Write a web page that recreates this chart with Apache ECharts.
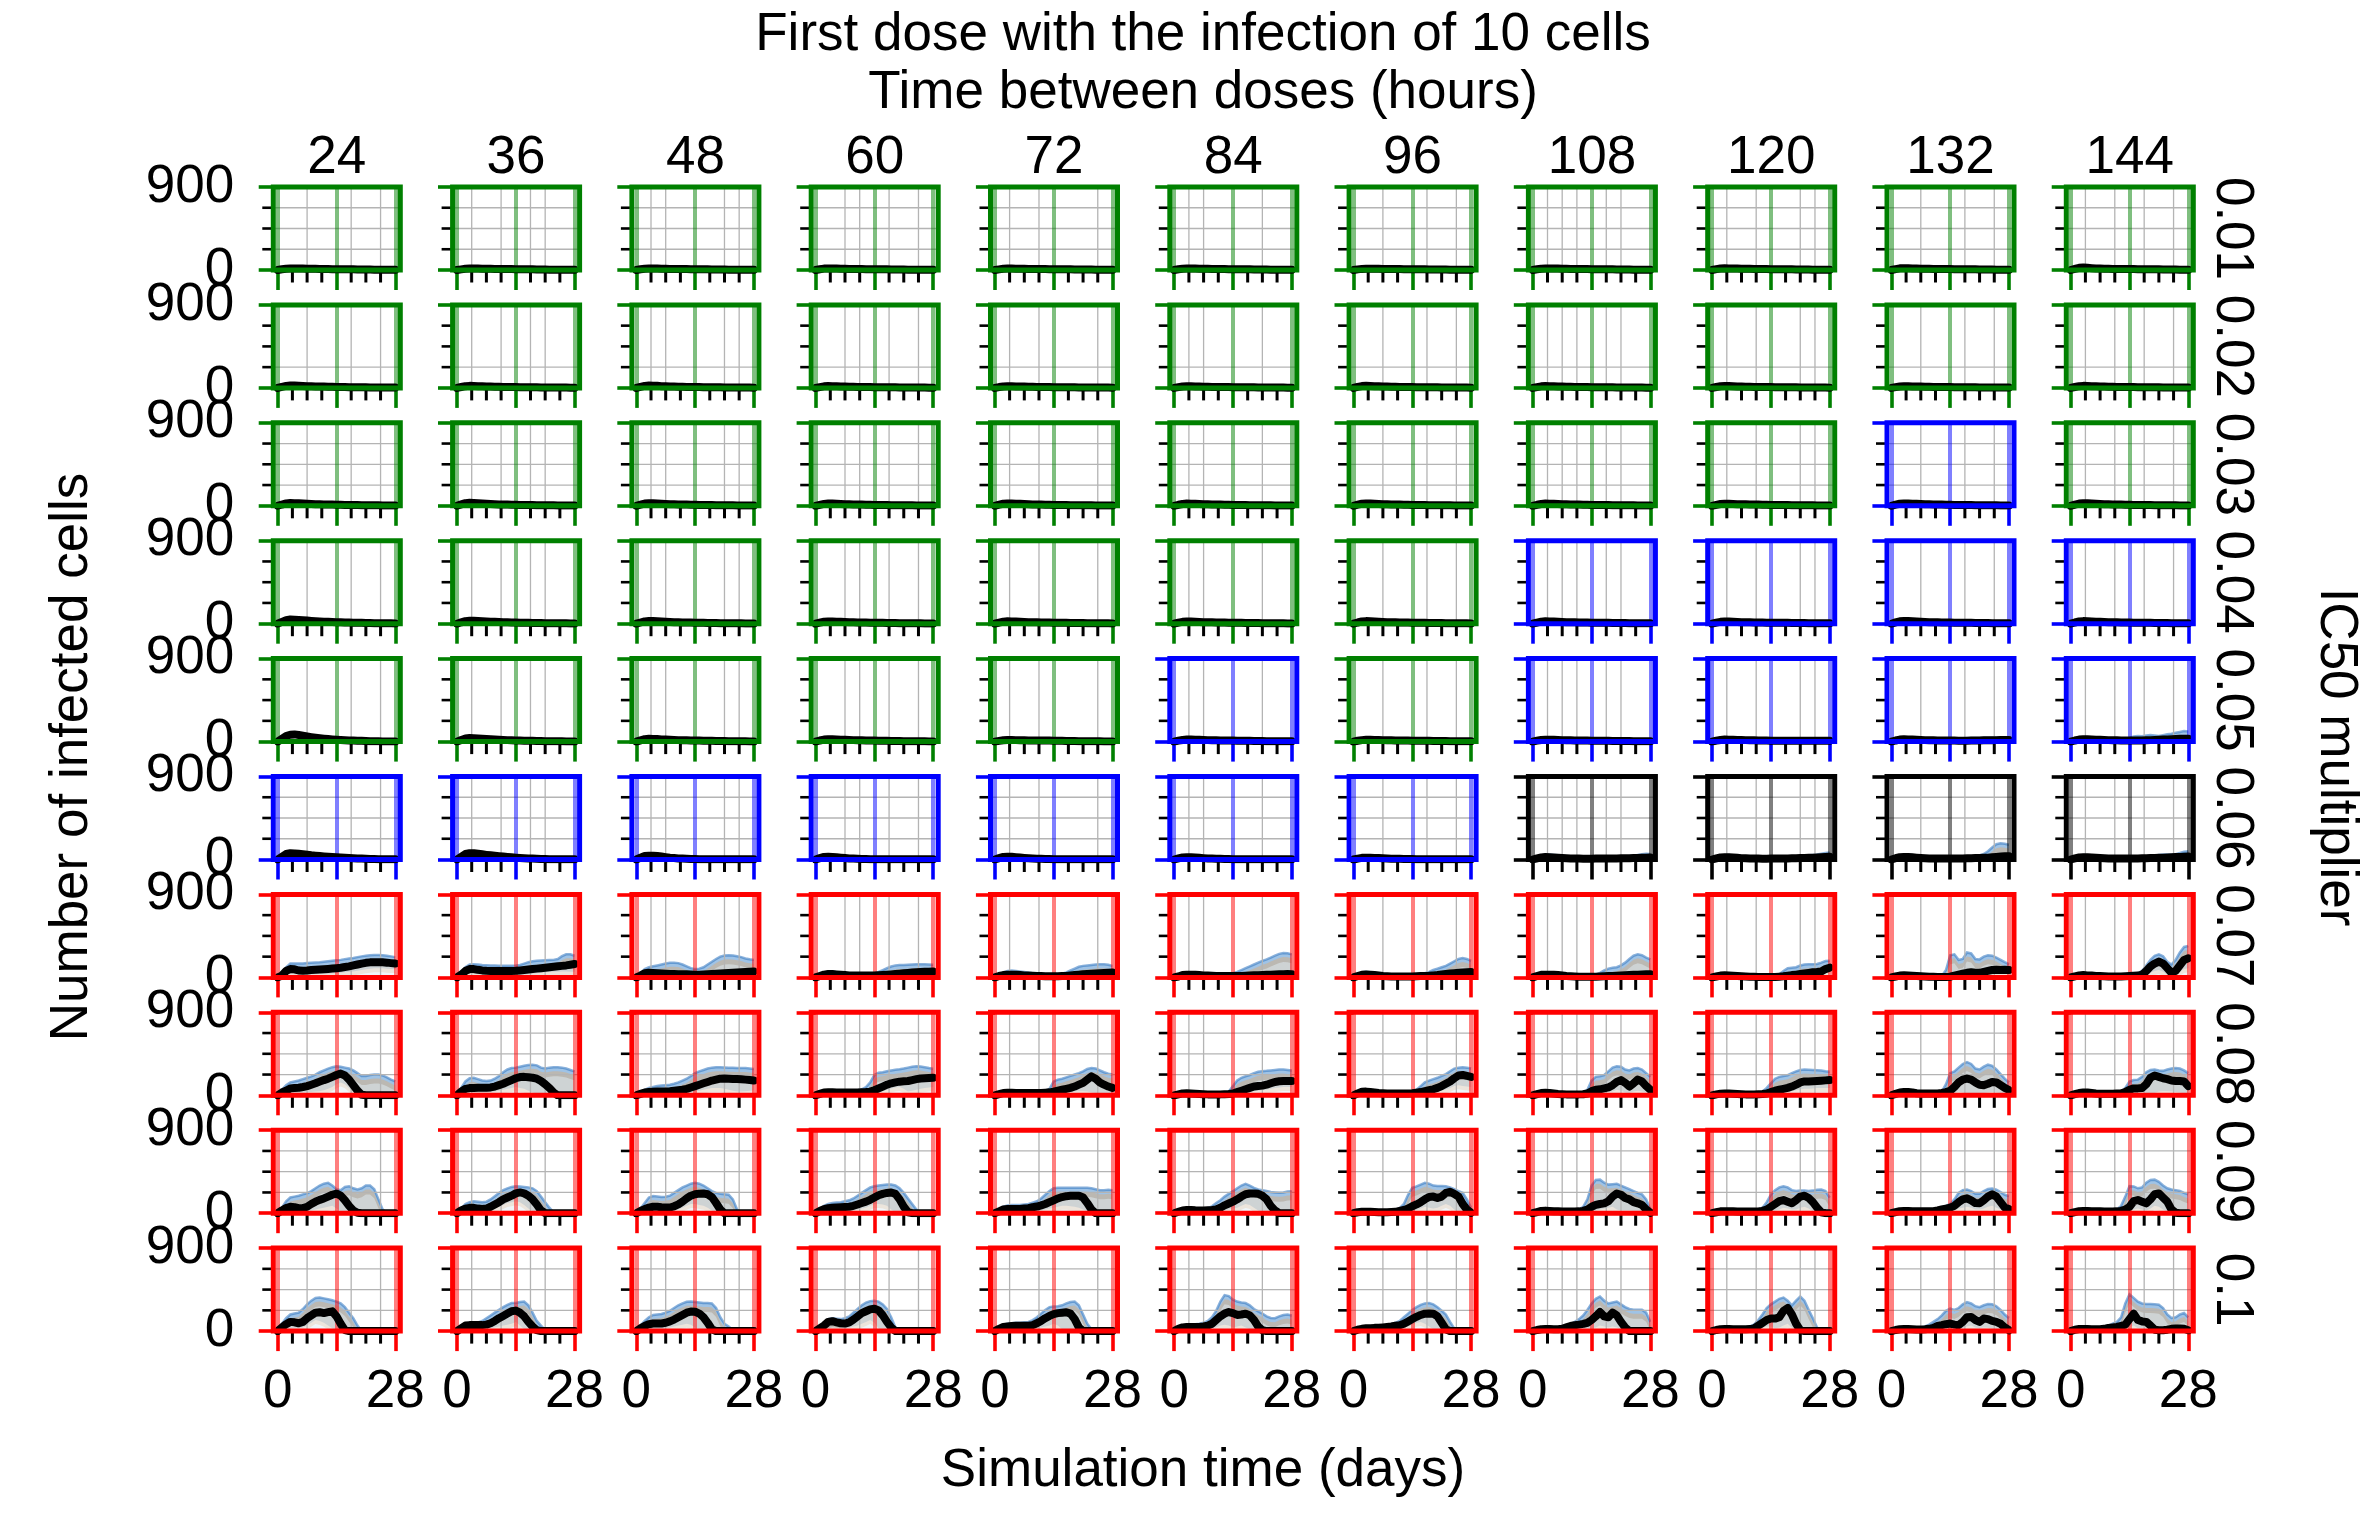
<!DOCTYPE html>
<html><head><meta charset="utf-8">
<script src="https://cdn.jsdelivr.net/npm/echarts@6/dist/echarts.min.js"></script>
<style>html,body{margin:0;padding:0;background:#fff}#chart{width:2377px;height:1513px}</style>
</head><body><div id="chart"></div>
<script>
// ---------------- data ----------------
const days = [0,1,2,3,4,5,6,7,8,9,10,11,12,13,14,15,16,17,18,19,20,21,22,23,24,25,26,27,28];
const doseIntervalHours = ['24','36','48','60','72','84','96','108','120','132','144'];
const ic50Multipliers = ['0.01','0.02','0.03','0.04','0.05','0.06','0.07','0.08','0.09','0.1'];
const xTickLabels = ['0','28'];
const yTickLabels = ['0','900'];
const xMinorTickDays = [3.5,7,10.5,17.5,21,24.5];
const yMinorTickCells = [225,450,675];
// outcome class of each panel (G green, B blue, K black, R red), one string per IC50 row
const outcomeByRow = ['GGGGGGGGGGG','GGGGGGGGGGG','GGGGGGGGGBG','GGGGGGGBBBB','GGGGGBGBBBB',
                      'BBBBBBBKKKK','RRRRRRRRRRR','RRRRRRRRRRR','RRRRRRRRRRR','RRRRRRRRRRR'];

// mean number of infected cells per day, one array per dose interval (columns 24..144 h)
const mean_0_01 = [
[0,8,14,16,16,15,15,14,14,13,12,11,10,9,9,8,8,7,7,6,6,5,5,4,4,3,3,3,3],
[0,7,13,15,15,15,14,14,13,12,12,11,10,10,9,8,8,7,7,6,5,5,4,4,3,3,3,2,2],
[0,8,14,16,16,15,14,13,12,12,11,10,10,9,8,8,7,7,6,6,5,5,4,4,3,3,3,2,2],
[0,8,15,17,16,15,14,13,12,11,10,10,9,9,8,8,7,7,6,6,5,5,4,4,4,3,3,3,3],
[0,7,13,15,15,14,14,13,12,12,11,10,10,9,9,8,8,7,7,6,6,5,5,5,4,4,3,3,3],
[0,8,14,16,16,15,14,13,13,12,11,11,10,9,9,8,8,7,7,6,6,5,5,4,4,4,3,3,3],
[0,7,12,14,14,13,13,12,12,11,10,10,9,9,8,8,7,7,6,6,5,5,5,4,4,3,3,3,3],
[0,8,14,16,16,15,15,14,13,12,12,11,10,10,9,9,8,8,7,7,6,6,5,5,4,4,3,3,3],
[0,9,16,18,17,16,15,14,13,13,12,11,10,10,9,9,8,8,7,7,6,6,5,5,4,4,4,3,3],
[0,10,18,20,18,16,15,14,13,13,12,12,11,10,10,9,9,8,8,7,7,6,6,5,5,4,4,3,3],
[0,12,24,28,24,20,17,15,14,13,12,12,11,11,10,10,9,9,8,8,7,7,6,6,5,5,4,4,4]];
const mean_0_02 = [
[0,12,22,26,25,23,21,19,17,16,15,14,13,12,11,10,9,8,8,7,6,6,5,5,4,4,3,3,3],
[0,10,19,22,21,19,17,15,14,13,12,11,10,9,9,8,7,7,6,6,5,5,4,4,3,3,3,2,2],
[0,12,22,25,24,22,19,17,15,14,13,12,11,10,9,9,8,7,7,6,6,5,5,4,4,3,3,3,2],
[0,9,17,20,19,17,15,14,13,12,11,10,10,9,8,8,7,7,6,6,5,5,4,4,3,3,3,2,2],
[0,9,16,19,18,16,15,14,13,12,11,10,9,9,8,8,7,7,6,6,5,5,4,4,4,3,3,3,2],
[0,8,15,18,17,15,14,13,12,11,10,10,9,9,8,8,7,7,6,6,5,5,4,4,3,3,3,2,2],
[0,11,20,23,21,19,17,15,14,13,12,11,10,10,9,8,8,7,7,6,6,5,5,4,4,3,3,3,2],
[0,9,17,20,19,17,15,14,13,12,11,10,10,9,8,8,7,7,6,6,5,5,4,4,3,3,3,2,2],
[0,10,18,21,20,18,16,14,13,12,11,10,10,9,9,8,8,7,7,6,6,5,5,4,4,3,3,3,2],
[0,8,15,18,17,16,15,14,13,12,11,10,10,9,9,8,8,7,7,6,6,5,5,4,4,3,3,3,3],
[0,10,19,22,21,19,17,15,14,13,12,11,10,10,9,9,8,8,7,7,6,6,5,5,4,4,3,3,3]];
const mean_0_03 = [
[0,14,26,30,29,27,24,22,20,18,16,15,14,13,12,11,10,9,8,8,7,6,6,5,5,4,4,3,3],
[0,15,28,32,30,27,24,21,19,17,15,14,13,12,11,10,9,8,8,7,6,6,5,5,4,4,3,3,3],
[0,12,24,28,27,25,22,20,18,16,15,14,13,12,11,10,9,8,8,7,6,6,5,5,4,4,3,3,3],
[0,11,21,25,24,22,20,18,16,15,14,13,12,11,10,9,9,8,7,7,6,6,5,5,4,4,3,3,3],
[0,12,22,26,25,23,21,19,17,15,14,13,12,11,10,9,9,8,7,7,6,6,5,5,4,4,3,3,3],
[0,11,20,24,23,21,19,17,16,15,14,13,12,11,10,9,9,8,7,7,6,6,5,5,4,4,3,3,3],
[0,12,22,26,25,22,20,18,16,15,14,13,12,11,10,9,8,8,7,7,6,6,5,5,4,4,3,3,3],
[0,11,20,24,23,21,19,17,16,15,14,13,12,11,10,10,9,8,8,7,7,6,6,5,5,4,4,3,3],
[0,10,19,23,22,20,18,17,16,15,14,13,12,11,10,10,9,8,8,7,7,6,6,5,5,4,4,3,3],
[0,12,22,26,25,23,21,19,17,16,15,14,13,12,11,10,9,9,8,8,7,7,6,6,5,5,4,4,4],
[0,13,24,28,27,24,21,19,17,16,15,14,13,12,11,10,9,9,8,8,7,7,6,6,5,5,4,4,4]];
const mean_0_04 = [
[0,20,38,45,44,41,38,34,30,27,24,22,20,18,16,15,13,12,11,10,9,8,7,6,6,5,4,4,3],
[0,15,28,33,32,30,27,24,22,20,18,16,15,13,12,11,10,9,8,8,7,6,6,5,5,4,4,3,3],
[0,13,25,29,28,26,23,21,19,17,15,14,13,12,11,10,9,8,8,7,6,6,5,5,4,4,3,3,3],
[0,11,21,25,24,22,20,18,16,15,14,13,12,11,10,9,9,8,7,7,6,6,5,5,4,4,3,3,3],
[0,12,22,26,25,23,21,19,17,16,15,14,13,12,11,10,9,9,8,8,7,7,6,6,5,5,4,4,3],
[0,11,20,24,23,21,19,17,16,15,14,13,12,11,10,10,9,8,8,7,7,6,6,5,5,4,4,3,3],
[0,13,24,28,27,24,21,19,17,16,15,14,13,12,11,10,9,9,8,8,7,7,6,6,5,5,4,4,3],
[0,12,22,26,25,23,21,19,17,16,15,14,13,12,11,10,10,9,9,8,8,7,7,6,6,5,5,4,4],
[0,11,20,24,23,21,19,17,16,15,14,13,12,11,11,10,10,9,9,8,8,7,7,6,6,5,5,4,4],
[0,14,26,30,29,26,23,21,19,17,16,15,14,13,12,11,10,10,9,9,8,8,7,7,6,6,5,5,4],
[0,13,24,28,27,24,22,20,18,17,16,15,14,13,12,11,10,10,9,9,8,8,7,7,6,6,5,5,5]];
const mean_0_05 = [
[0,30,60,75,78,72,64,56,49,43,37,32,28,24,21,18,15,13,11,9,8,6,5,4,3,2,2,1,1],
[0,18,33,38,37,34,31,28,25,22,20,18,16,14,12,11,10,9,8,7,6,5,5,4,3,3,2,2,2],
[0,14,26,30,29,27,24,22,20,18,16,15,14,13,12,11,10,9,8,7,6,6,5,4,4,3,3,2,2],
[0,12,22,26,25,23,21,19,17,16,15,14,13,12,11,10,9,8,7,7,6,5,5,4,4,3,3,2,2],
[0,8,14,17,17,16,15,14,13,13,12,12,11,11,10,9,8,7,6,6,5,5,4,4,3,3,2,2,2],
[0,10,18,22,22,20,19,17,16,15,14,13,12,12,11,10,9,8,8,7,6,6,5,5,4,4,3,3,3],
[0,9,16,19,19,18,17,16,15,14,13,12,12,11,10,10,9,8,8,7,7,6,6,5,5,4,4,3,3],
[0,10,18,21,21,19,18,16,15,14,13,12,11,11,10,9,9,8,8,7,7,6,6,6,5,5,5,5,5],
[0,10,18,22,21,20,18,17,16,15,14,13,12,11,10,10,9,9,8,8,8,8,8,8,9,9,10,10,10],
[0,12,22,25,24,22,20,18,16,15,14,13,12,12,11,11,10,10,10,11,12,13,14,15,15,16,17,18,18],
[0,12,22,26,25,23,21,19,17,16,15,14,13,12,12,11,11,12,14,16,18,20,22,24,26,28,30,32,32]];
const mean_0_06 = [
[0,30,60,68,66,62,58,52,46,42,38,34,30,27,24,21,18,16,14,12,10,8,6,5,4,3,2,2,2],
[0,30,60,68,68,62,56,50,45,40,36,32,28,24,20,17,14,12,10,8,6,5,4,3,2,2,2,2,2],
[0,20,38,42,42,38,32,26,20,16,12,10,8,6,5,4,3,3,2,2,2,2,2,2,2,2,2,2,2],
[0,15,28,30,28,24,20,16,12,10,8,6,5,4,3,3,2,2,2,2,2,2,2,2,2,2,2,2,2],
[0,15,28,31,29,25,21,17,13,10,8,7,6,5,4,3,3,2,2,2,2,2,2,2,2,2,2,2,2],
[0,12,22,25,24,21,18,15,12,10,8,7,6,5,4,4,3,3,3,2,2,2,2,2,2,2,2,2,2],
[0,10,18,20,19,17,15,13,11,9,8,7,6,5,5,4,4,3,3,3,2,2,2,2,2,2,2,2,2],
[0,12,22,26,25,22,19,16,14,12,11,10,9,9,9,10,10,11,12,12,12,13,13,14,15,16,18,20,22],
[0,12,22,25,24,21,18,15,13,11,10,10,9,9,10,10,11,12,12,13,14,15,16,18,20,22,25,28,30],
[0,14,25,28,27,24,20,17,14,12,11,10,10,10,10,11,11,12,13,14,15,16,18,20,24,28,32,35,36],
[0,12,22,25,24,21,18,16,14,12,11,10,10,10,10,11,12,13,14,15,16,18,20,22,24,26,28,30,32]];
const mean_0_07 = [
[0,20,70,90,88,75,72,75,80,82,85,88,92,96,100,105,112,120,130,140,150,158,163,165,165,163,160,155,150],
[0,30,70,90,90,82,76,72,70,70,70,70,70,70,72,76,80,85,90,95,100,105,110,115,120,125,130,137,145],
[0,20,45,50,48,45,42,40,38,36,35,34,33,32,30,30,32,35,38,40,42,45,48,50,52,55,58,62,65],
[0,15,30,36,36,32,28,25,22,20,20,20,20,20,20,22,25,28,32,36,40,44,48,52,55,58,60,62,64],
[0,15,25,30,30,28,25,22,20,18,15,14,12,12,12,12,14,16,20,25,30,35,38,40,42,45,48,50,52],
[0,10,25,30,30,28,25,22,20,18,16,15,14,14,14,15,16,18,20,22,24,26,28,30,32,33,35,36,35],
[0,15,28,32,30,25,20,15,12,10,10,10,10,10,10,12,14,16,18,22,26,32,38,42,46,50,54,57,58],
[0,15,28,30,30,28,25,20,15,12,10,8,8,8,8,8,10,12,14,16,18,20,22,25,28,30,32,34,35],
[0,10,20,22,20,18,15,12,10,8,6,5,5,5,5,5,8,12,18,25,30,36,42,48,55,58,65,90,105],
[0,10,20,22,20,18,15,12,10,8,6,5,5,5,8,20,30,40,50,55,50,50,60,70,80,82,80,82,80],
[0,12,22,25,22,20,16,14,12,10,10,10,10,12,15,18,20,30,70,118,150,171,150,100,50,70,130,190,207]];
const mean_0_08 = [
[0,30,50,75,80,82,90,100,115,130,148,165,180,200,220,235,215,170,110,50,5,0,0,0,0,0,0,0,0],
[0,40,70,78,80,82,82,82,85,95,110,125,145,165,185,198,200,195,190,180,155,120,80,30,0,0,0,0,0],
[0,15,30,35,38,40,40,42,45,50,55,60,70,85,100,115,130,145,160,170,180,182,180,178,176,174,170,165,160],
[0,15,30,32,32,30,30,30,30,30,30,32,35,40,55,75,95,115,130,140,148,152,155,165,175,182,185,188,190],
[0,12,25,28,28,25,25,25,25,25,25,25,28,32,40,50,60,70,80,95,115,135,170,205,180,140,115,95,80],
[0,10,20,22,20,18,15,12,10,10,10,10,12,15,20,35,50,65,80,95,100,105,115,130,145,152,155,155,155],
[0,20,38,40,35,30,25,22,20,20,20,20,20,20,22,28,35,45,55,65,80,100,125,150,185,215,220,210,200],
[0,12,25,28,25,20,15,12,10,10,10,10,12,20,45,60,65,75,85,110,145,165,135,95,130,170,150,100,60],
[0,10,18,20,20,18,15,12,10,10,10,12,14,20,35,50,60,70,80,95,115,140,150,150,152,155,158,162,165],
[0,15,30,35,35,30,22,20,20,20,20,20,25,35,50,90,140,170,182,170,140,115,110,125,145,140,110,80,57],
[0,12,25,30,30,25,20,18,18,18,18,20,22,35,60,75,75,80,120,190,215,200,185,175,160,155,155,150,100]];
const mean_0_09 = [
[0,30,55,70,65,55,55,70,100,125,145,160,180,200,212,190,140,80,30,5,0,0,0,0,0,0,0,0,0],
[0,30,50,58,58,50,45,50,70,95,120,150,170,190,215,225,215,190,150,95,30,0,0,0,0,0,0,0,0],
[0,25,45,60,70,70,65,62,62,75,95,125,160,190,205,212,214,205,175,110,40,0,0,0,0,0,0,0,0],
[0,25,45,55,60,62,65,68,70,80,95,110,125,145,170,195,210,220,225,210,150,70,10,0,0,0,0,0,0],
[0,20,40,45,46,46,46,50,55,65,72,85,100,120,140,160,175,185,188,189,190,170,110,40,0,0,0,0,0],
[0,15,30,36,36,32,30,30,32,35,40,60,85,105,125,150,180,205,214,214,210,190,150,80,30,0,0,0,0],
[0,10,15,15,15,12,10,10,10,12,15,25,35,50,75,95,120,150,175,180,165,180,220,232,210,180,100,40,5],
[0,12,25,28,25,22,20,18,18,18,18,20,25,40,70,90,100,107,130,180,214,200,165,150,120,107,90,40,5],
[0,10,20,22,22,20,18,18,18,18,18,18,25,40,70,100,130,143,125,107,140,180,189,165,120,60,10,0,0],
[0,12,22,25,25,22,20,20,20,20,22,30,40,50,60,80,120,150,161,140,110,107,140,180,204,180,120,60,45],
[0,12,22,25,25,22,20,20,18,18,18,20,25,40,70,130,143,125,107,150,205,214,170,125,40,5,0,0,0]];
const mean_0_1 = [
[0,40,75,100,95,85,100,140,170,200,205,195,205,214,160,80,10,0,0,0,0,0,0,0,0,0,0,0,0],
[0,30,60,65,65,65,65,70,85,110,140,165,190,215,222,200,160,100,50,10,0,0,0,0,0,0,0,0,0],
[0,30,55,75,82,82,82,90,105,125,150,175,200,212,210,190,150,90,20,0,0,0,0,0,0,0,0,0,0],
[0,30,60,100,107,95,85,82,95,125,160,195,215,235,243,225,170,100,40,0,0,0,0,0,0,0,0,0,0],
[0,25,45,50,55,57,57,57,58,65,85,110,140,165,185,195,200,205,190,130,40,0,0,0,0,0,0,0,0],
[0,25,40,45,45,45,45,50,60,80,120,160,190,207,195,175,180,189,170,120,50,10,0,0,0,0,0,0,0],
[0,15,25,30,32,35,36,40,45,50,58,64,80,105,130,155,175,189,192,189,160,90,20,0,0,0,0,0,0],
[0,12,20,22,22,20,20,25,40,55,64,70,78,90,120,160,207,160,150,200,170,100,40,0,0,0,0,0,0],
[0,12,20,22,22,20,20,20,20,22,30,60,90,120,136,136,150,220,250,180,80,10,0,0,0,0,0,0,0],
[0,12,20,22,22,20,18,18,20,25,35,55,64,75,82,70,64,100,150,154,120,100,136,130,110,100,80,40,10],
[0,15,22,22,22,20,20,20,25,35,40,45,55,70,130,189,120,105,100,60,15,10,10,15,25,28,29,25,10]];

// spread of the replicate runs (upper / lower envelope); null where no visible spread
const upper_0_05 = [null,null,null,null,null,null,null,null,
[0,18,30,34,33,30,27,25,23,21,20,19,18,17,16,16,16,17,18,20,22,24,26,28,30,30,30,30,28],
[0,20,34,38,37,34,31,28,25,23,21,20,19,20,22,26,32,36,38,38,40,40,42,42,44,45,46,46,45],
[0,20,35,40,38,35,31,28,25,23,21,20,20,25,40,55,60,58,65,71,65,60,70,80,85,95,105,114,110]];
const lower_0_05 = [null,null,null,null,null,null,null,null,
[0,3,8,10,10,10,9,8,7,6,5,5,5,4,4,4,3,3,3,3,3,3,3,3,3,3,3,3,3],
[0,4,10,12,12,11,10,9,8,7,6,6,5,5,5,5,5,5,5,5,5,5,5,5,5,5,5,5,5],
[0,4,10,12,12,11,10,9,8,7,6,6,5,5,5,6,6,6,7,8,8,8,9,10,10,11,12,12,12]];
const upper_0_06 = [null,null,null,null,null,null,null,
[0,25,45,55,55,50,45,40,35,30,25,22,20,20,20,22,24,26,28,30,32,34,36,38,42,50,58,62,60],
[0,22,40,50,48,44,40,35,30,26,23,21,20,20,20,22,24,26,28,30,32,35,40,45,50,55,62,70,75],
[0,25,45,55,52,48,42,36,30,26,23,21,20,20,20,22,24,26,28,30,35,45,60,90,130,165,175,170,160],
[0,22,40,48,46,42,38,34,30,27,25,23,22,22,22,23,25,27,30,34,40,50,55,55,52,58,70,85,90]];
const lower_0_06 = [null,null,null,null,null,null,null,
[0,3,8,10,10,10,9,8,7,6,5,5,5,5,5,5,5,5,5,5,5,5,5,5,5,5,5,5,5],
[0,3,8,10,10,9,8,7,6,5,5,5,5,5,5,5,5,5,5,5,5,5,5,5,5,5,6,6,6],
[0,3,8,10,10,9,8,7,6,5,5,5,5,5,5,5,5,5,5,5,6,7,8,10,12,14,15,15,15],
[0,3,8,10,10,9,8,7,6,5,5,5,5,5,5,5,5,5,6,6,7,8,8,9,10,10,10,11,12]];
const upper_0_07 = [
[0,40,110,150,150,150,150,155,160,162,165,170,175,180,185,190,198,205,210,220,228,235,240,242,242,240,235,228,220],
[0,50,110,140,142,140,135,132,130,128,126,125,125,125,128,135,150,165,175,180,182,185,188,190,200,230,250,250,235],
[0,40,90,110,120,130,140,150,158,160,155,140,120,100,90,95,110,140,170,200,225,238,240,238,230,220,205,196,190],
[0,25,50,60,60,55,50,45,40,35,32,30,30,35,45,60,80,100,118,130,135,135,138,140,142,143,142,140,136],
[0,30,55,70,75,70,65,58,50,45,40,35,30,28,28,30,40,55,75,95,115,125,130,135,140,143,143,138,125],
[0,20,45,55,55,50,45,40,35,32,30,30,30,35,45,60,80,100,120,140,160,180,195,215,235,255,265,262,250],
[0,30,55,60,55,45,38,32,28,25,22,20,20,20,22,28,35,45,60,80,95,110,125,150,175,200,210,200,180],
[0,25,45,50,50,45,40,35,30,25,22,20,18,18,20,30,50,75,95,105,110,130,160,200,235,250,240,215,195],
[0,20,35,38,35,30,25,20,18,15,12,10,10,10,12,18,35,70,100,105,110,130,140,143,143,145,160,178,180],
[0,20,35,38,35,30,25,20,18,15,12,10,15,80,240,250,190,200,270,260,200,195,225,240,235,215,190,165,145],
[0,22,35,38,35,30,25,22,20,18,18,18,20,25,30,35,45,70,130,190,235,250,230,170,140,190,270,330,340]];
const lower_0_07 = [
[0,0,30,40,35,30,30,30,32,34,36,38,40,42,45,50,55,60,65,72,80,88,95,100,100,98,95,92,90],
[0,0,20,40,40,35,30,28,25,25,25,25,25,25,25,28,30,35,40,45,50,55,58,60,62,64,65,62,60],
[0,0,10,15,15,15,15,15,15,15,15,15,15,15,15,15,15,15,18,20,22,25,25,25,25,25,25,25,25],
[0,0,10,15,15,12,10,8,8,8,8,8,8,8,8,8,10,12,15,18,20,22,24,26,28,30,30,30,30],
[0,0,5,10,10,10,8,8,5,5,5,5,5,5,5,5,5,5,8,10,12,15,15,18,18,20,20,20,20],
[0,0,5,8,8,8,8,6,5,5,5,5,5,5,5,5,8,10,12,15,18,20,22,25,28,30,32,32,30],
[0,0,5,8,8,6,5,4,3,3,3,3,3,3,3,4,5,6,8,10,12,15,18,20,22,25,25,25,25],
[0,0,5,8,8,6,5,4,3,3,3,3,3,3,3,3,5,6,8,10,12,15,18,20,22,22,22,20,20],
[0,0,5,5,5,5,4,3,2,2,2,2,2,2,2,2,4,6,10,15,18,22,26,30,35,40,45,60,75],
[0,0,5,5,5,5,4,3,2,2,2,2,2,5,20,30,25,25,30,30,28,28,35,45,55,55,50,50,50],
[0,2,8,10,10,8,6,5,4,4,4,4,4,5,6,8,10,12,25,50,70,80,60,30,15,25,60,90,100]];
const upper_0_08 = [
[0,60,110,140,150,160,175,190,205,225,250,270,290,305,314,310,300,290,270,240,210,210,220,225,225,215,195,170,150],
[0,80,150,185,190,175,160,155,160,180,210,250,280,296,300,310,320,328,332,325,300,290,300,305,304,300,290,275,260],
[0,30,60,80,90,100,105,110,115,125,140,160,180,210,240,260,275,290,300,304,304,302,300,298,296,296,295,290,285],
[0,25,45,50,50,50,48,48,48,50,55,65,90,140,220,245,250,260,270,278,282,290,300,310,314,312,305,295,289],
[0,25,40,45,45,40,38,35,35,35,35,38,45,70,150,170,180,195,210,225,240,260,285,296,290,270,250,235,225],
[0,20,35,38,35,30,28,25,22,20,20,22,25,40,100,160,190,207,220,240,255,262,265,270,275,280,280,275,270],
[0,30,50,55,50,45,40,35,30,30,30,30,30,32,40,60,100,140,160,175,190,210,230,260,290,300,304,300,290],
[0,20,40,45,40,35,30,25,22,20,20,25,35,60,160,200,207,220,260,300,314,310,280,270,290,296,280,240,200],
[0,15,30,35,32,28,25,22,20,20,22,25,40,80,130,180,200,210,218,240,260,275,280,278,275,272,268,260,255],
[0,25,40,48,48,40,35,32,30,30,30,30,40,120,240,260,300,340,361,340,290,280,310,332,320,280,230,180,140],
[0,20,35,40,38,35,30,28,28,28,28,30,40,80,150,165,170,200,250,275,279,270,265,280,290,296,290,270,240]];
const lower_0_08 = [
[0,0,10,20,25,28,30,32,35,40,45,55,70,90,120,140,120,80,30,5,0,0,0,0,0,0,0,0,0],
[0,0,20,30,30,30,30,30,35,40,50,60,70,80,90,80,70,50,30,20,10,5,5,5,5,5,5,5,5],
[0,0,5,10,10,10,10,10,10,12,15,20,25,30,40,50,60,70,80,80,80,70,60,50,40,40,45,50,55],
[0,0,5,8,8,8,8,8,8,8,8,10,12,15,20,30,45,60,75,85,90,70,40,50,60,70,80,85,90],
[0,0,5,5,5,5,5,5,5,5,5,5,8,10,15,20,25,30,35,40,45,45,40,30,25,20,15,12,10],
[0,0,5,5,5,5,4,3,3,3,3,3,4,5,8,15,25,35,40,45,50,55,60,70,80,85,90,90,90],
[0,2,10,12,10,10,8,6,6,6,6,6,6,6,8,10,15,20,25,30,40,50,65,80,100,110,100,95,90],
[0,0,5,8,8,6,5,4,3,3,3,3,4,5,15,20,25,30,35,40,60,50,30,25,40,50,40,30,20],
[0,0,5,5,5,5,4,3,3,3,3,4,5,8,15,20,25,30,35,45,55,65,70,72,75,78,80,80,80],
[0,2,10,12,12,10,8,6,6,6,6,6,8,10,15,25,40,30,20,15,15,20,25,30,35,30,25,20,15],
[0,0,5,8,8,6,5,4,4,4,4,4,5,10,20,30,30,30,25,20,25,40,45,45,40,35,30,20,10]];
const upper_0_09 = [
[0,60,130,170,180,190,204,215,240,270,300,320,329,300,260,250,285,293,270,258,270,300,300,260,150,40,0,0,0],
[0,50,100,120,130,125,120,125,150,185,220,250,270,285,293,290,285,280,270,240,180,120,60,10,0,0,0,0,0],
[0,50,110,170,186,180,175,178,190,220,250,280,300,320,329,320,300,270,240,220,210,206,200,150,40,0,0,0,0],
[0,40,80,100,110,115,120,130,140,160,190,220,250,280,293,300,305,311,311,300,270,220,160,100,40,0,0,0,0],
[0,35,70,85,90,90,90,95,100,115,130,160,200,240,270,275,275,275,275,275,275,275,275,270,260,250,250,255,250],
[0,25,45,55,55,50,48,48,55,75,110,140,180,210,239,270,300,318,300,275,257,250,240,230,225,221,225,235,239],
[0,15,25,28,28,25,22,20,20,25,35,55,100,200,275,290,310,329,320,300,295,295,293,280,260,240,221,150,60],
[0,20,35,40,38,35,30,28,28,28,30,40,70,150,300,360,364,330,310,315,318,300,280,260,240,220,204,150,40],
[0,20,35,38,38,35,32,30,30,30,32,40,60,120,200,250,280,293,280,250,240,246,245,240,245,255,257,240,168],
[0,20,35,40,40,35,32,30,30,30,35,50,65,80,100,150,220,250,257,240,210,210,240,262,268,255,230,200,186],
[0,20,35,40,40,35,30,28,28,28,30,40,80,180,293,290,270,280,330,360,364,340,300,270,257,250,240,220,204]];
const lower_0_09 = [
[0,0,10,20,20,15,15,20,30,40,50,60,70,80,50,20,5,0,0,0,0,0,0,0,0,0,0,0,0],
[0,5,20,30,30,25,20,25,35,50,70,90,110,120,130,120,90,50,20,0,0,0,0,0,0,0,0,0,0],
[0,0,10,20,25,25,20,20,20,30,40,60,80,100,100,90,80,60,30,10,0,0,0,0,0,0,0,0,0],
[0,5,15,20,25,25,25,25,25,30,40,50,60,80,100,100,95,80,40,10,0,0,0,0,0,0,0,0,0],
[0,5,10,15,15,15,15,15,15,20,25,30,40,50,60,70,80,80,75,70,60,40,20,5,0,0,0,0,0],
[0,2,8,10,10,8,8,8,10,12,15,20,30,40,50,60,80,100,90,60,30,10,0,0,0,0,0,0,0],
[0,2,5,5,5,5,4,4,4,5,8,10,15,20,25,35,50,70,60,50,60,80,100,80,40,10,0,0,0],
[0,2,8,10,8,6,5,5,5,5,5,6,8,12,20,30,40,50,60,70,40,30,30,30,25,20,10,0,0],
[0,2,8,10,10,8,6,6,6,6,6,6,8,12,20,30,40,60,50,40,40,60,70,50,20,5,0,0,0],
[0,2,8,10,10,8,6,6,6,6,8,10,15,20,25,30,50,60,70,60,40,40,50,70,80,60,40,20,15],
[0,2,8,10,10,8,6,6,6,6,6,8,10,15,20,40,50,40,30,50,80,70,40,15,0,0,0,0,0]];
const upper_0_1 = [
[0,80,140,180,190,200,240,290,330,360,364,355,345,335,320,300,260,200,140,60,0,0,0,0,0,0,0,0,0],
[0,50,80,90,90,95,110,140,170,200,230,260,285,304,305,315,321,280,200,110,60,10,0,0,0,0,0,0,0],
[0,60,110,150,175,180,185,200,220,250,280,300,318,321,315,310,305,304,300,250,150,80,50,10,0,0,0,0,0],
[0,50,90,130,140,135,130,140,160,200,240,280,310,325,329,320,290,240,150,40,0,0,0,0,0,0,0,0,0],
[0,40,70,80,85,90,90,95,100,120,150,190,230,260,268,270,280,300,315,321,280,180,80,20,0,0,0,0,0],
[0,40,60,70,75,75,80,90,110,150,220,320,390,380,340,320,310,304,280,240,214,190,160,143,140,160,175,179,170],
[0,25,40,45,50,52,55,60,65,75,90,110,150,190,230,260,285,300,304,290,260,220,179,100,30,0,0,0,0],
[0,20,30,35,35,35,35,40,55,75,100,130,170,230,300,350,375,330,300,310,321,290,260,240,232,232,232,200,100],
[0,20,30,35,35,35,35,35,40,50,70,120,180,250,290,320,350,364,330,280,330,375,330,230,140,40,0,0,0],
[0,20,30,35,35,35,35,40,50,70,100,130,170,220,243,230,250,290,314,300,270,260,280,293,290,270,230,180,143],
[0,20,30,35,35,35,35,40,50,60,80,100,150,300,400,360,320,300,295,293,290,286,250,180,143,150,180,196,150]];
const lower_0_1 = [
[0,5,20,30,30,30,40,60,90,120,110,90,60,30,10,0,0,0,0,0,0,0,0,0,0,0,0,0,0],
[0,5,15,20,20,20,20,25,30,40,50,60,70,80,100,60,20,0,0,0,0,0,0,0,0,0,0,0,0],
[0,5,15,20,25,25,25,30,40,50,60,70,80,70,40,20,5,0,0,0,0,0,0,0,0,0,0,0,0],
[0,5,20,30,35,35,30,30,35,50,60,80,100,120,90,30,0,0,0,0,0,0,0,0,0,0,0,0,0],
[0,5,10,15,15,15,15,15,15,20,30,40,50,60,80,60,20,5,0,0,0,0,0,0,0,0,0,0,0],
[0,5,10,15,15,15,15,18,20,30,40,60,70,60,40,50,60,40,20,10,0,0,0,0,0,0,0,0,0],
[0,5,10,12,12,12,12,15,18,20,25,30,40,50,70,90,100,80,50,20,0,0,0,0,0,0,0,0,0],
[0,2,5,8,8,8,8,10,15,20,25,30,30,30,30,40,60,50,40,50,40,20,5,0,0,0,0,0,0],
[0,2,5,8,8,8,8,8,8,10,15,25,40,50,50,30,40,60,80,40,10,0,0,0,0,0,0,0,0],
[0,2,5,8,8,8,8,8,10,12,15,20,25,30,35,30,20,30,50,60,40,30,40,35,25,15,10,5,0],
[0,2,5,8,8,8,8,8,10,12,15,20,25,30,40,60,30,30,30,20,5,0,0,0,5,8,10,5,0]];

const meanRows = [mean_0_01, mean_0_02, mean_0_03, mean_0_04, mean_0_05, mean_0_06, mean_0_07, mean_0_08, mean_0_09, mean_0_1];
const upperRows = [null, null, null, null, upper_0_05, upper_0_06, upper_0_07, upper_0_08, upper_0_09, upper_0_1];
const lowerRows = [null, null, null, null, lower_0_05, lower_0_06, lower_0_07, lower_0_08, lower_0_09, lower_0_1];

// ---------------- style / layout ----------------
const FONT = 'Liberation Sans, Arial, Helvetica, sans-serif';
const FS = 53;
const frameColor = {G:'#008000', B:'#0000ff', K:'#000000', R:'#ff0000'};
const majorGridColor = {G:'rgba(0,128,0,0.5)', B:'rgba(0,0,255,0.5)', K:'rgba(0,0,0,0.5)', R:'rgba(255,0,0,0.5)'};
// faint grid lines that are visible in each column / row of the original raster
const vMinorByCol = [[7,17.5,24.5],[3.5,10.5,17.5,21],[3.5,7,21,24.5],[7,10.5,17.5,24.5],[3.5,10.5,24.5],
                     [3.5,7,21],[7,17.5,24.5],[3.5,7,10.5,17.5,21],[3.5,10.5,21,24.5],[7,17.5,24.5],[3.5,10.5,17.5,24.5]];
const hMinorByRow = [[225,450,675],[225],[225,450,675],[],[],[225,450,675],[],[225,450,675],[225,450,675],[225,450,675]];

const X0 = 273.3, DX = 179.3, W = 127, Y0 = 187, DY = 117.9, H = 83;
const XMIN = -1.05, XMAX = 29.2;
const IN_L = W * (0 - XMIN) / (XMAX - XMIN);
const IN_W = W * 28 / (XMAX - XMIN);

const grid = [], xAxis = [], yAxis = [], series = [], graphic = [];

function txt(text, x, y, rot) {
  return {type:'text', x, y, rotation: rot || 0, silent:true, z: 20,
    style:{text, fontSize:FS, fontFamily:FONT, fill:'#000', align:'center', verticalAlign:'middle',
           textAlign:'center', textVerticalAlign:'middle'}};
}

for (let r = 0; r < ic50Multipliers.length; r++) {
  for (let c = 0; c < doseIntervalHours.length; c++) {
    const code = outcomeByRow[r][c];
    const col = frameColor[code];
    const left = X0 + DX * c, top = Y0 + DY * r;
    const mean = meanRows[r][c];
    const up = upperRows[r] ? upperRows[r][c] : null;
    const lo = lowerRows[r] ? lowerRows[r][c] : null;

    // outer box: frame + major y ticks
    const gi = grid.length;
    grid.push({left, top, width: W, height: H, show: true, borderColor: col, borderWidth: 5,
               backgroundColor: 'transparent', z: 10});
    xAxis.push({gridIndex: gi, type: 'value', min: XMIN, max: XMAX, show: false});
    yAxis.push({gridIndex: gi, type: 'value', min: 0, max: 900, interval: 900,
      axisLine: {show: false},
      axisTick: {show: true, length: 19, lineStyle: {color: col, width: 3.6}},
      minorTick: {show: false},
      splitLine: {show: false}, minorSplitLine: {show: false},
      axisLabel: {show: c === 0, fontSize: FS, fontFamily: FONT, color: '#000', margin: 39,
                  formatter: v => (yTickLabels.indexOf(String(v)) >= 0 ? String(v) : '')}});

    // inner data area: 0..28 days
    const ii = grid.length;
    grid.push({left: left + IN_L, top, width: IN_W, height: H});
    xAxis.push({gridIndex: ii, type: 'value', min: 0, max: 28, interval: 14, z: 1,
      axisLine: {show: false},
      axisTick: {show: true, length: 20, lineStyle: {color: col, width: 3.6}},
      minorTick: {show: false},
      splitLine: {show: true, lineStyle: {color: majorGridColor[code], width: 4}},
      minorSplitLine: {show: false},
      axisLabel: {show: r === ic50Multipliers.length - 1, fontSize: FS, fontFamily: FONT, color: '#000', margin: 35,
                  formatter: v => (xTickLabels.indexOf(String(v)) >= 0 ? String(v) : '')}});
    yAxis.push({gridIndex: ii, type: 'value', min: 0, max: 900, show: false});

    // replicate spread band
    if (up && lo) {
      series.push({type: 'custom', xAxisIndex: ii, yAxisIndex: ii, z: 0, clip: true, silent: true,
        data: [[0, 0]],
        renderItem: (params, api) => {
          const U = days.map((d, i) => api.coord([d, up[i]]));
          const L = days.map((d, i) => api.coord([d, lo[i]]));
          const poly = U.concat(L.slice().reverse());
          return {type: 'group', children: [
            {type: 'polygon', shape: {points: poly}, style: {fill: 'rgba(80,145,210,0.55)'}},
            {type: 'polygon', y: 4, shape: {points: poly}, style: {fill: 'rgba(235,165,95,0.38)'}},
            {type: 'polygon', y: 9, shape: {points: poly}, style: {fill: 'rgba(225,238,245,0.5)'}},
            {type: 'polyline', shape: {points: U}, style: {stroke: 'rgba(60,125,195,0.6)', lineWidth: 2.5, fill: null}}
          ]};
        }});
    }

    // faint grid lines + minor tick marks
    const vm = vMinorByCol[c], hm = hMinorByRow[r];
    series.push({type: 'custom', xAxisIndex: gi, yAxisIndex: gi, z: 0.5, silent: true, data: [[0, 0]],
      renderItem: (params, api) => {
        const ch = [];
        vm.forEach(v => { const a = api.coord([v, 0]), b = api.coord([v, 900]);
          ch.push({type: 'line', shape: {x1: a[0], y1: a[1], x2: b[0], y2: b[1]}, style: {stroke: '#b4b4b4', lineWidth: 1.3}}); });
        hm.forEach(v => { const a = api.coord([XMIN, v]), b = api.coord([XMAX, v]);
          ch.push({type: 'line', shape: {x1: a[0], y1: a[1], x2: b[0], y2: b[1]}, style: {stroke: '#b4b4b4', lineWidth: 1.3}}); });
        xMinorTickDays.forEach(v => { const a = api.coord([v, 0]);
          ch.push({type: 'line', shape: {x1: a[0], y1: a[1], x2: a[0], y2: a[1] + 12.5}, style: {stroke: '#000', lineWidth: 3}}); });
        yMinorTickCells.forEach(v => { const a = api.coord([XMIN, v]);
          ch.push({type: 'line', shape: {x1: a[0], y1: a[1], x2: a[0] - 11, y2: a[1]}, style: {stroke: '#000', lineWidth: 2.6}}); });
        return {type: 'group', children: ch};
      }});

    // mean trajectory
    series.push({type: 'line', xAxisIndex: ii, yAxisIndex: ii, z: 3, silent: true, clip: true,
      showSymbol: false, symbol: 'none',
      data: days.map((d, i) => [d, mean[i]]),
      lineStyle: {color: '#000', width: 8, join: 'round', cap: 'round'}});

    if (r === 0) graphic.push(txt(doseIntervalHours[c], left + W / 2, 158));
  }
  graphic.push(txt(ic50Multipliers[r], 2232, Y0 + DY * r + H / 2, -Math.PI / 2));
}

graphic.push(txt('First dose with the infection of 10 cells', 1203, 35));
graphic.push(txt('Time between doses (hours)', 1203, 93));
graphic.push(txt('Simulation time (days)', 1203, 1471));
graphic.push(txt('Number of infected cells', 72, 757, Math.PI / 2));
graphic.push(txt('IC50 multiplier', 2336, 757, -Math.PI / 2));

const chart = echarts.init(document.getElementById('chart'), null, {renderer: 'canvas', width: 2377, height: 1513});
chart.setOption({
  animation: false,
  backgroundColor: '#ffffff',
  grid, xAxis, yAxis, series, graphic
});
</script>
</body></html>
